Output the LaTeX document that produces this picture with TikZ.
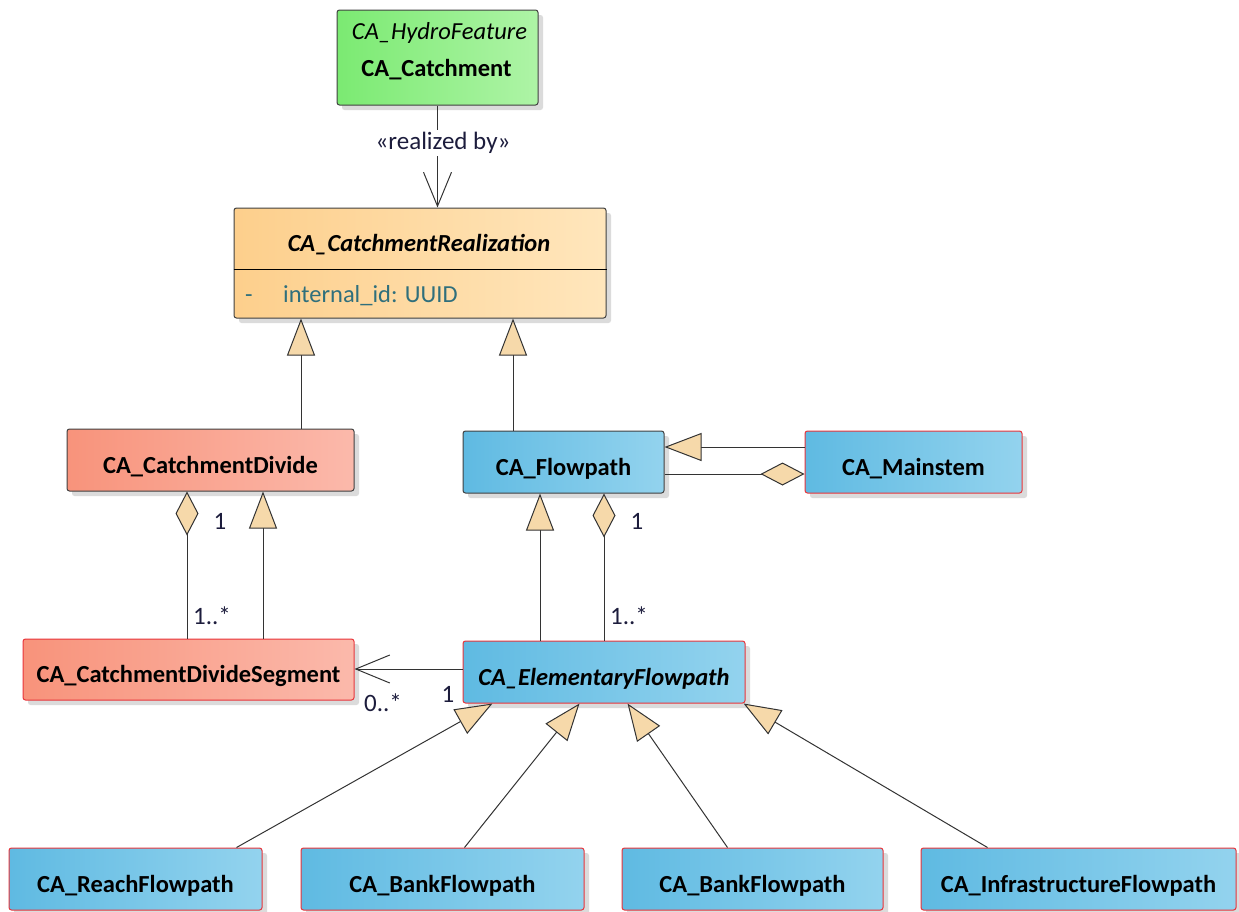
\documentclass[tikz,border=0pt]{standalone}
\usepackage{fontspec}
\setmainfont{Carlito}
\usetikzlibrary{arrows.meta,shadows,calc}

\definecolor{greenL}{HTML}{7BEA72}
\definecolor{greenR}{HTML}{AEF4A6}
\definecolor{orangeL}{HTML}{FDCF8C}
\definecolor{orangeR}{HTML}{FFE6BC}
\definecolor{salmonL}{HTML}{F8937B}
\definecolor{salmonR}{HTML}{FBB9AB}
\definecolor{blueL}{HTML}{5FBAE2}
\definecolor{blueR}{HTML}{93D3EE}
\definecolor{edgeDark}{HTML}{404040}
\definecolor{edgeRed}{HTML}{E8343A}
\definecolor{headFill}{HTML}{F6D9AA}
\definecolor{lineCol}{HTML}{333333}
\definecolor{labCol}{HTML}{1C1C3C}
\definecolor{attrCol}{HTML}{2F6F7C}

\tikzset{
  umlbox/.style={rectangle, rounded corners=2.5pt, line width=1pt, inner sep=0pt,
    text height=26pt, text depth=0pt,
    font=\fontsize{24.5}{28}\selectfont\bfseries, text=black,
    drop shadow={shadow xshift=5pt, shadow yshift=-5pt, opacity=0.14, fill=black}},
  greenbox/.style={umlbox, draw=edgeDark, left color=greenL, right color=greenR},
  orangebox/.style={umlbox, draw=edgeDark, left color=orangeL, right color=orangeR},
  salmonbox/.style={umlbox, draw=edgeDark, left color=salmonL, right color=salmonR},
  salmonredbox/.style={umlbox, draw=edgeRed, left color=salmonL, right color=salmonR},
  bluebox/.style={umlbox, draw=edgeDark, left color=blueL, right color=blueR},
  blueredbox/.style={umlbox, draw=edgeRed, left color=blueL, right color=blueR},
  boxtext/.style={inner sep=0pt, font=\fontsize{24.5}{28}\selectfont, text=black},
  conn/.style={draw=lineCol, line width=1pt},
  gen/.style={conn, -{Triangle[length=37pt, width=28pt, fill=headFill, line width=1pt]}},
  aggstart/.style={conn, {Diamond[length=44pt, width=23pt, fill=headFill, line width=1pt]}-},
  aggend/.style={conn, -{Diamond[length=44pt, width=23pt, fill=headFill, line width=1pt]}},
  openhead/.style={conn, -{Straight Barb[length=34pt, width=28pt, line width=1pt]}},
  mult/.style={inner sep=0pt, font=\fontsize{25}{29}\selectfont, text=labCol},
}

\begin{document}
\begin{tikzpicture}[x=1pt, y=-1pt]
\useasboundingbox (0,0) rectangle (1239,911);

% ---- classes ----
\node[greenbox, minimum width=201pt, minimum height=95pt] (cat) at (437.5,57.5) {};
\node[boxtext, font=\fontsize{24.5}{28}\selectfont\itshape] (catstereo) at (439.5,33) {CA\_HydroFeature};
\node[boxtext, font=\fontsize{24.5}{28}\selectfont\bfseries] (catname) at (436.5,69.5) {CA\_Catchment};

\node[orangebox, minimum width=372pt, minimum height=110pt] (real) at (420,263) {};
\node[boxtext, font=\fontsize{24.5}{28}\selectfont\bfseries\itshape] (realname) at (419,245) {CA\_CatchmentRealization};
\coordinate (sep) at (0,269);
\draw[draw=black, line width=1pt] (real.west |- sep) -- (real.east |- sep);
\node[boxtext, text=attrCol, anchor=base west] (vis) at (245,302) {-};
\node[boxtext, text=attrCol, anchor=base west] (attr) at (283,302) {internal\_id: UUID};

\node[salmonbox, minimum width=287pt, minimum height=62pt] (cdiv) at (210.5,460) {CA\_CatchmentDivide};
\node[bluebox, minimum width=201pt, minimum height=62pt] (flow) at (563.5,462) {CA\_Flowpath};
\node[blueredbox, minimum width=217pt, minimum height=62pt] (mainst) at (913.5,462) {CA\_Mainstem};
\node[salmonredbox, minimum width=331pt, minimum height=61pt] (seg) at (188.5,669.5) {CA\_CatchmentDivideSegment};
\node[blueredbox, minimum width=282pt, minimum height=62pt, font=\fontsize{24.5}{28}\selectfont\bfseries\itshape] (elem) at (604,672) {CA\_ElementaryFlowpath};

\node[blueredbox, minimum width=253pt, minimum height=62pt] (reach) at (135.5,879) {CA\_ReachFlowpath};
\node[blueredbox, minimum width=283pt, minimum height=62pt] (bankA) at (442.5,879) {CA\_BankFlowpath};
\node[blueredbox, minimum width=261pt, minimum height=62pt] (bankB) at (752.5,879) {CA\_BankFlowpath};
\node[blueredbox, minimum width=315pt, minimum height=62pt] (infra) at (1078.5,879) {CA\_InfrastructureFlowpath};

% ---- realization ----
\draw[openhead] (cat.south) -- (cat.south |- real.north);
\node[mult, fill=white, inner sep=2pt] (realizedby) at (443,143) {«realized by»};

% ---- generalizations to the realization class ----
\coordinate (gx1) at (301,0);
\coordinate (gx2) at (513,0);
\draw[gen] (gx1 |- cdiv.north) -- (gx1 |- real.south);
\draw[gen] (gx2 |- flow.north) -- (gx2 |- real.south);

% ---- mainstem relations ----
\coordinate (my1) at (0,447);
\coordinate (my2) at (0,474);
\draw[gen] (mainst.west |- my1) -- (flow.east |- my1);
\draw[aggend] (flow.east |- my2) -- (mainst.west |- my2);

% ---- catchment divide relations ----
\coordinate (dx1) at (187,0);
\coordinate (dx2) at (263,0);
\draw[aggstart] (dx1 |- cdiv.south) -- (dx1 |- seg.north);
\draw[gen] (dx2 |- seg.north) -- (dx2 |- cdiv.south);
\node[mult] (m1) at (220,521) {1};
\node[mult] (m2) at (212,616) {1..*};

% ---- flowpath relations ----
\coordinate (fx1) at (540,0);
\coordinate (fx2) at (604,0);
\draw[gen] (fx1 |- elem.north) -- (fx1 |- flow.south);
\draw[aggstart] (fx2 |- flow.south) -- (fx2 |- elem.north);
\node[mult] (m3) at (637,521) {1};
\node[mult] (m4) at (629,616) {1..*};

% ---- elementary flowpath to divide segment ----
\coordinate (ay) at (0,669);
\draw[openhead] (elem.west |- ay) -- (seg.east |- ay);
\node[mult] (m5) at (383,703) {0..*};
\node[mult] (m6) at (448,694) {1};

% ---- specializations of the elementary flowpath ----
\draw[gen] ($(reach.north east)+(-26,0)$) -- ($(elem.south west)+(30,0)$);
\draw[gen] ($(bankA.north west)+(164,0)$) -- ($(elem.south west)+(117,0)$);
\draw[gen] ($(bankB.north west)+(106,0)$) -- ($(elem.south west)+(165,0)$);
\draw[gen] ($(infra.north west)+(67,0)$) -- ($(elem.south east)+(-2,0)$);
\end{tikzpicture}
\end{document}
